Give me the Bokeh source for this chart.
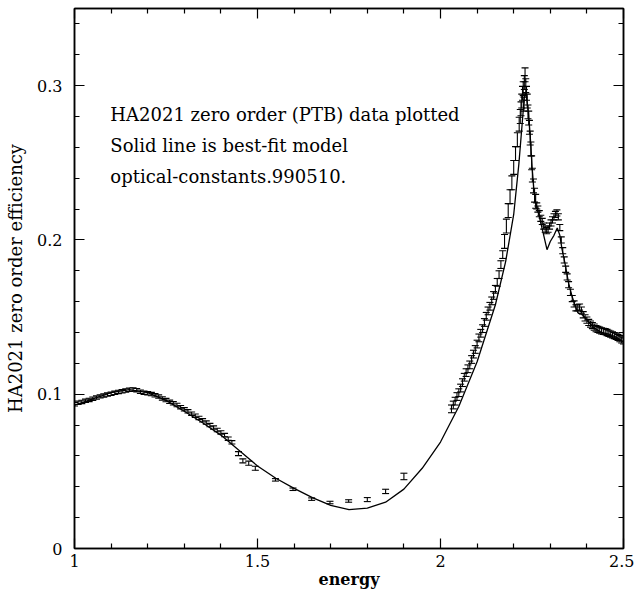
from bokeh.plotting import figure
from bokeh.models import (ColumnDataSource, Whisker, TeeHead, FixedTicker,
                          LinearAxis, Label)
from bokeh.embed import file_html
from bokeh.resources import INLINE

# ---------------- data ----------------
# measured zero-order efficiency, low-energy dense block
e_a = [1.00, 1.01, 1.02, 1.03, 1.04, 1.05, 1.06, 1.07, 1.08, 1.09, 1.10,
       1.11, 1.12, 1.13, 1.14, 1.15, 1.16, 1.17, 1.18, 1.19, 1.20, 1.21,
       1.22, 1.23, 1.24, 1.25, 1.26, 1.27, 1.28, 1.29, 1.30, 1.31, 1.32,
       1.33, 1.34, 1.35, 1.36, 1.37, 1.38, 1.39, 1.40, 1.41, 1.42, 1.43]
v_a = [0.0935, 0.0944, 0.0950, 0.0957, 0.0963, 0.0971, 0.0978, 0.0986,
       0.0992, 0.0998, 0.1003, 0.1009, 0.1015, 0.1019, 0.1024, 0.1029,
       0.1031, 0.1026, 0.1016, 0.1010, 0.1006, 0.1001, 0.0993, 0.0985,
       0.0973, 0.0962, 0.0951, 0.0941, 0.0930, 0.0916, 0.0902, 0.0889,
       0.0874, 0.0861, 0.0846, 0.0831, 0.0816, 0.0800, 0.0784, 0.0768,
       0.0752, 0.0735, 0.0712, 0.0688]
err_a = 0.0011

# points that fall below the model near 1.45-1.5
e_b = [1.448, 1.460, 1.476, 1.494]
v_b = [0.0615, 0.0568, 0.0553, 0.0520]
err_b = 0.0013

# sparse points across the minimum
e_c = [1.549, 1.597, 1.648, 1.698, 1.749, 1.800, 1.850, 1.900]
v_c = [0.0445, 0.0384, 0.0320, 0.0298, 0.0308, 0.0317, 0.0370, 0.0467]
err_c = [0.0008, 0.0008, 0.0008, 0.0008, 0.0008, 0.0013, 0.0014, 0.0021]

# dense block: rising edge
e_d = [2.030, 2.035, 2.040, 2.045, 2.050, 2.055, 2.060, 2.065, 2.070,
       2.075, 2.080, 2.085, 2.090, 2.095, 2.100, 2.105, 2.110, 2.115,
       2.120, 2.125, 2.130, 2.135, 2.140, 2.145, 2.150, 2.155, 2.160,
       2.165, 2.170]
v_d = [0.0905, 0.0930, 0.0955, 0.0985, 0.1010, 0.1040, 0.1075, 0.1110,
       0.1140, 0.1165, 0.1190, 0.1225, 0.1260, 0.1290, 0.1325, 0.1365,
       0.1395, 0.1425, 0.1465, 0.1505, 0.1540, 0.1570, 0.1605, 0.1640,
       0.1680, 0.1725, 0.1775, 0.1840, 0.1905]
err_d = 0.0025

# dense block: main peak
e_p = [2.175, 2.180, 2.185, 2.190, 2.195, 2.200, 2.205, 2.210, 2.215,
       2.218, 2.220, 2.222, 2.224, 2.226, 2.228, 2.229, 2.231, 2.233,
       2.235, 2.237, 2.239, 2.241, 2.243, 2.245, 2.247, 2.249, 2.251,
       2.254, 2.257, 2.260]
v_p = [0.1990, 0.2090, 0.2190, 0.2280, 0.2370, 0.2470, 0.2560, 0.2650,
       0.2750, 0.2800, 0.2850, 0.2900, 0.2950, 0.2980, 0.2880, 0.3020,
       0.3070, 0.3000, 0.2950, 0.2900, 0.2830, 0.2790, 0.2730, 0.2660,
       0.2590, 0.2500, 0.2420, 0.2350, 0.2290, 0.2250]
err_p = 0.0045

# dense block: second peak and high-energy tail
e_t = [2.263, 2.266, 2.270, 2.274, 2.278, 2.282, 2.286, 2.290, 2.294,
       2.298, 2.302, 2.306, 2.310, 2.314, 2.318, 2.322, 2.326, 2.330,
       2.334, 2.338, 2.342, 2.346, 2.350, 2.355, 2.360, 2.365, 2.370,
       2.375, 2.380, 2.385, 2.390, 2.395, 2.400, 2.405, 2.410, 2.415,
       2.420, 2.425, 2.430, 2.435, 2.440, 2.445, 2.450, 2.455, 2.460,
       2.465, 2.470, 2.475, 2.480, 2.485, 2.490, 2.495, 2.500]
v_t = [0.2220, 0.2200, 0.2170, 0.2140, 0.2120, 0.2090, 0.2070, 0.2060,
       0.2070, 0.2090, 0.2110, 0.2130, 0.2150, 0.2165, 0.2175, 0.2150,
       0.2080, 0.2000, 0.1930, 0.1870, 0.1810, 0.1760, 0.1710, 0.1660,
       0.1620, 0.1585, 0.1560, 0.1560, 0.1565, 0.1545, 0.1515, 0.1495,
       0.1480, 0.1465, 0.1455, 0.1445, 0.1435, 0.1425, 0.1420, 0.1415,
       0.1410, 0.1408, 0.1405, 0.1400, 0.1395, 0.1390, 0.1385, 0.1380,
       0.1375, 0.1368, 0.1360, 0.1352, 0.1345]
err_t = 0.0020

# best-fit model (solid line)
model_e = [1.00, 1.05, 1.10, 1.15, 1.20, 1.25, 1.30, 1.35, 1.40, 1.45,
           1.50, 1.55, 1.60, 1.65, 1.70, 1.75, 1.80, 1.85, 1.90, 1.95,
           2.00, 2.05, 2.10, 2.15, 2.178, 2.200, 2.214, 2.223, 2.229,
           2.233, 2.240, 2.245, 2.250, 2.255, 2.260, 2.270, 2.280, 2.291,
           2.300, 2.310, 2.319, 2.326, 2.332, 2.340, 2.350, 2.360, 2.370,
           2.375, 2.380, 2.385, 2.390, 2.400, 2.420, 2.440, 2.460, 2.480,
           2.500]
model_v = [0.0930, 0.0970, 0.1010, 0.1030, 0.1010, 0.0960, 0.0890, 0.0815,
           0.0735, 0.0635, 0.0535, 0.0455, 0.0390, 0.0330, 0.0280, 0.0252,
           0.0262, 0.0300, 0.0385, 0.0520, 0.0690, 0.0920, 0.1210, 0.1580,
           0.1860, 0.2165, 0.2490, 0.2750, 0.2925, 0.2960, 0.2830, 0.2680,
           0.2480, 0.2330, 0.2240, 0.2150, 0.2050, 0.1937, 0.1990, 0.2030,
           0.2078, 0.2030, 0.1940, 0.1850, 0.1720, 0.1630, 0.1560, 0.1530,
           0.1520, 0.1520, 0.1510, 0.1480, 0.1430, 0.1400, 0.1390, 0.1370,
           0.1340]

x_ticks = [1, 1.5, 2, 2.5]
x_tick_labels = ["1", "1.5", "2", "2.5"]
y_ticks = [0, 0.1, 0.2, 0.3]
y_tick_labels = ["0", "0.1", "0.2", "0.3"]
x_minor = [1.1, 1.2, 1.3, 1.4, 1.6, 1.7, 1.8, 1.9, 2.1, 2.2, 2.3, 2.4]
y_minor = [0.02, 0.04, 0.06, 0.08, 0.12, 0.14, 0.16, 0.18, 0.22, 0.24,
           0.26, 0.28, 0.32, 0.34]

annotation_lines = ["HA2021 zero order (PTB) data plotted",
                    "Solid line is best-fit model",
                    "optical-constants.990510."]
annotation_y = [0.2815, 0.2610, 0.2410]

FONT = "DejaVu Serif"

# ---------------- build sources ----------------
def expand(err, n):
    return err if isinstance(err, list) else [err] * n

xs, ys, es = [], [], []
for e, v, er in [(e_a, v_a, err_a), (e_b, v_b, err_b), (e_c, v_c, err_c),
                 (e_d, v_d, err_d), (e_p, v_p, err_p), (e_t, v_t, err_t)]:
    xs += e
    ys += v
    es += expand(er, len(e))

src = ColumnDataSource(dict(
    x=xs, y=ys,
    upper=[a + b for a, b in zip(ys, es)],
    lower=[a - b for a, b in zip(ys, es)],
))

# ---------------- figure ----------------
p = figure(width=634, height=592, x_range=(1, 2.5), y_range=(0, 0.35),
           output_backend="svg", toolbar_location=None, tools="",
           min_border_left=74, min_border_right=11, min_border_top=8,
           min_border_bottom=44)
p.xgrid.visible = False
p.ygrid.visible = False
p.outline_line_color = "black"
p.outline_line_width = 1.5
p.background_fill_color = "white"
p.border_fill_color = "white"

# model line
p.line(model_e, model_v, line_color="black", line_width=1.3)

# error bars
w = Whisker(source=src, base="x", upper="upper", lower="lower",
            dimension="height", line_color="black", line_width=1.1,
            upper_head=TeeHead(size=7, line_color="black", line_width=1.1),
            lower_head=TeeHead(size=7, line_color="black", line_width=1.1))
p.add_layout(w)

xt = FixedTicker(ticks=x_ticks, minor_ticks=x_minor)
yt = FixedTicker(ticks=y_ticks, minor_ticks=y_minor)


def style_axis(ax, labels):
    ax.axis_line_color = "black"
    ax.axis_line_width = 1.5
    ax.major_tick_in = 10
    ax.major_tick_out = 0
    ax.minor_tick_in = 5
    ax.minor_tick_out = 0
    ax.major_tick_line_color = "black"
    ax.minor_tick_line_color = "black"
    ax.major_tick_line_width = 1.2
    ax.minor_tick_line_width = 1.2
    ax.major_label_text_font = FONT
    ax.major_label_text_font_size = "16px"
    ax.major_label_text_color = "black"
    ax.major_label_overrides = labels


xa = p.xaxis[0]
xa.ticker = xt
style_axis(xa, {t: s for t, s in zip(x_ticks, x_tick_labels)})
xa.major_label_standoff = 6
xa.axis_label = "energy"
xa.axis_label_text_font = FONT
xa.axis_label_text_font_size = "16px"
xa.axis_label_text_font_style = "bold"
xa.axis_label_text_color = "black"
xa.axis_label_standoff = 0

ya = p.yaxis[0]
ya.ticker = yt
style_axis(ya, {t: s for t, s in zip(y_ticks, y_tick_labels)})
ya.major_label_standoff = 12
ya.axis_label = "HA2021 zero order efficiency"
ya.axis_label_text_font = FONT
ya.axis_label_text_font_size = "18px"
ya.axis_label_text_font_style = "normal"
ya.axis_label_text_color = "black"
ya.axis_label_standoff = 8

top = LinearAxis(ticker=xt)
style_axis(top, {t: "" for t in x_ticks})
top.major_label_standoff = 0
p.add_layout(top, "above")
right = LinearAxis(ticker=yt)
style_axis(right, {t: "" for t in y_ticks})
right.major_label_standoff = 0
p.add_layout(right, "right")

# annotation text
for line, yv in zip(annotation_lines, annotation_y):
    p.add_layout(Label(x=1.098, y=yv, text=line, text_align="left",
                       text_baseline="middle", text_font=FONT,
                       text_font_size="18px", text_color="black"))

open("out.html", "w").write(file_html(p, INLINE))
